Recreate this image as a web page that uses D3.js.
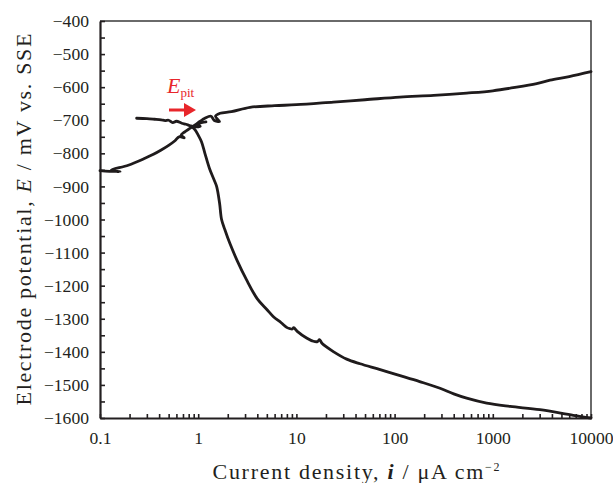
<!DOCTYPE html>
<html>
<head>
<meta charset="utf-8">
<script src="https://cdn.jsdelivr.net/npm/d3@7"></script>
<style>
  body { margin: 0; background: #fff; }
  text { font-family: "Liberation Serif", "DejaVu Serif", serif; fill: #231f20; }
</style>
</head>
<body>
<svg id="chart" width="613" height="483"></svg>
<script>
// polarization curve, values (i in uA/cm2, E in mV vs SSE)
const cathodicI = [0.88, 0.93, 1.0, 1.08, 1.17, 1.3, 1.45, 1.54, 1.65, 1.73, 1.87, 2.1, 2.5, 3.1, 4.0, 5.0, 5.8, 7.0, 7.96, 8.6, 9.1, 9.4, 10.2, 12.7, 14.9, 16.4, 17.2, 18.3, 24, 32.5, 44.5, 70, 105, 180, 290, 400, 542, 867, 1500, 3020, 6600, 10000];
const cathodicE = [-722, -729, -745, -765, -800, -845, -880, -900, -950, -1000, -1031, -1072, -1125, -1182, -1240, -1272, -1293, -1312, -1326, -1330, -1331, -1327, -1338, -1358, -1368, -1369, -1363, -1375, -1400, -1422, -1436, -1453, -1469, -1490, -1510, -1527, -1540, -1555, -1565, -1575, -1592, -1600];

const anodicI = [0.1, 0.16, 0.13, 0.194, 0.287, 0.35, 0.42, 0.5, 0.58, 0.64, 0.72, 0.67, 0.73, 0.83, 0.93, 1.05, 1.17, 1.35, 1.45, 1.65, 1.5, 1.67, 2.18, 3.37, 6, 10, 23.8, 50, 113, 250, 542, 1000, 1750, 2800, 3830, 6000, 10000];
const anodicE = [-852, -856, -851, -836, -815, -803, -790, -776, -762, -750, -753, -745, -735, -724, -714, -703, -694, -688, -700, -704, -688, -679, -674, -661, -656, -653, -645, -638, -630, -625, -618, -611, -600, -589, -579, -568, -553];

const loopI = [0.236, 0.30, 0.36, 0.42, 0.46, 0.5, 0.55, 0.6, 0.68, 0.75, 0.82, 0.93, 1.05, 0.97, 1.2];
const loopE = [-694, -695, -697, -699, -701, -700, -707, -703, -709, -712, -716, -720, -718, -712, -705];

const decades = [0.1, 1, 10, 100, 1000, 10000];
const yLabels = [-400, -500, -600, -700, -800, -900, -1000, -1100, -1200, -1300, -1400, -1500, -1600];

const svg = d3.select("#chart");
const mLeft = 100, mRight = 591, mTop = 21, mBottom = 418;

const x = d3.scaleLog().domain([0.1, 10000]).range([mLeft, mRight]);
const y = d3.scaleLinear().domain([-1600, -400]).range([mBottom, mTop]);

// frame (top and right)
svg.append("path")
  .attr("d", "M" + mLeft + "," + mTop + "H" + mRight + "V" + mBottom)
  .attr("fill", "none").attr("stroke", "#3a3a3a").attr("stroke-width", 1.5);

// x ticks: 1..9 in each decade, labels only on decades
let xTicks = [];
decades.slice(0, -1).forEach(function(d) {
  for (let k = 1; k < 10; k++) xTicks.push(d * k);
});
xTicks.push(10000);

const xAxis = d3.axisBottom(x)
  .tickValues(xTicks)
  .tickSizeInner(-4)
  .tickSizeOuter(0)
  .tickPadding(14)
  .tickFormat(function(d) { return decades.some(v => Math.abs(v - d) < 1e-9) ? d3.format("")(d) : ""; });

const gx = svg.append("g").attr("transform", "translate(0," + mBottom + ")").call(xAxis);
gx.select(".domain").attr("stroke", "#231f20").attr("stroke-width", 2.2);
gx.selectAll(".tick line").attr("stroke", "#231f20").attr("stroke-width", 1.6);
gx.selectAll(".tick text").style("font-size", "17.6px").attr("font-family", null);

// y ticks every 50 mV, labels every 100
const yTicks = d3.range(-1600, -399, 50);
const yAxis = d3.axisLeft(y)
  .tickValues(yTicks)
  .tickSizeInner(-5)
  .tickSizeOuter(0)
  .tickPadding(11)
  .tickFormat(function(d) { return yLabels.indexOf(d) >= 0 ? d3.format("")(d) : ""; });

const gy = svg.append("g").attr("transform", "translate(" + mLeft + ",0)").call(yAxis);
gy.select(".domain").attr("stroke", "#231f20").attr("stroke-width", 2.2);
gy.selectAll(".tick line").attr("stroke", "#231f20").attr("stroke-width", 1.6);
gy.selectAll(".tick text").style("font-size", "17.6px").attr("font-family", null);

// curves
const line = d3.line()
  .x(function(d) { return x(d[0]); })
  .y(function(d) { return y(d[1]); })
  .curve(d3.curveCatmullRom.alpha(0.5));

function pairs(a, b) { return a.map(function(v, i) { return [v, b[i]]; }); }

[pairs(cathodicI, cathodicE), pairs(anodicI, anodicE), pairs(loopI, loopE)].forEach(function(s) {
  svg.append("path")
    .datum(s)
    .attr("d", line)
    .attr("fill", "none")
    .attr("stroke", "#1f1b1c")
    .attr("stroke-width", 2.8)
    .attr("stroke-linejoin", "round")
    .attr("stroke-linecap", "round");
});

// E_pit annotation
const red = "#e8262b";
const lab = svg.append("text").attr("x", 167).attr("y", 93).style("font-size", "22px");
lab.append("tspan").text("E").style("font-style", "italic").style("fill", red);
lab.append("tspan").text("pit").attr("dy", 4).style("font-size", "13px").style("fill", red);

svg.append("line")
  .attr("x1", 169).attr("y1", 110).attr("x2", 186).attr("y2", 110)
  .attr("stroke", red).attr("stroke-width", 3);
svg.append("path")
  .attr("d", "M184,103 L196,110 L184,117 Z")
  .attr("fill", red);

// axis titles
const xt = svg.append("text")
  .attr("x", 356).attr("y", 479)
  .attr("text-anchor", "middle")
  .attr("textLength", 287)
  .attr("lengthAdjust", "spacing")
  .style("font-size", "22px");
xt.append("tspan").text("Current density, ");
xt.append("tspan").text("i").style("font-style", "italic").style("font-weight", "bold");
xt.append("tspan").text(" / μA cm");
xt.append("tspan").text("−2").attr("dy", -8).style("font-size", "12px");

const yt = svg.append("text")
  .attr("transform", "translate(31,219.5) rotate(-90)")
  .attr("text-anchor", "middle")
  .attr("textLength", 372)
  .attr("lengthAdjust", "spacing")
  .style("font-size", "22px");
yt.append("tspan").text("Electrode potential, ");
yt.append("tspan").text("E").style("font-style", "italic");
yt.append("tspan").text(" / mV vs. SSE");
</script>
</body>
</html>
